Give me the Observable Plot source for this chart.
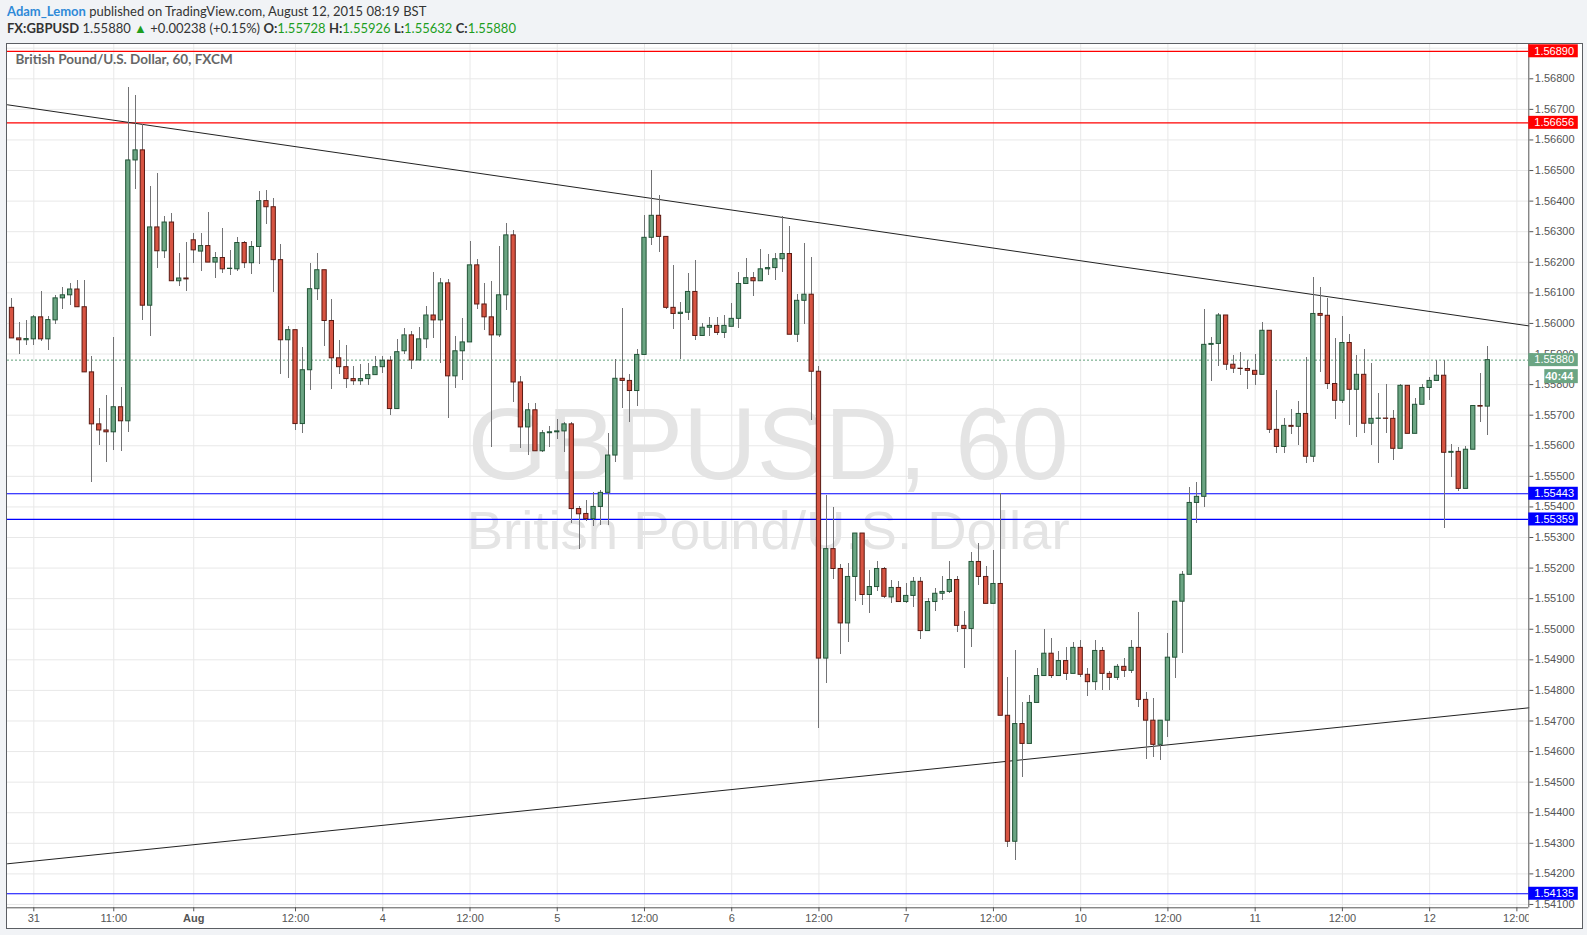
<!DOCTYPE html>
<html><head><meta charset="utf-8">
<script src="https://cdn.jsdelivr.net/npm/d3@7"></script>
<script src="https://cdn.jsdelivr.net/npm/@observablehq/plot@0.6"></script>
<style>
html,body{margin:0;padding:0;background:#f1f3f6;width:1587px;height:935px;overflow:hidden;position:relative;}
#hdr{position:absolute;left:7px;top:0;font-family:Lato,'Open Sans',sans-serif;font-size:13px;color:#333;}
#l1{position:absolute;top:4px;left:0;white-space:nowrap;line-height:15px;}
#l2{position:absolute;top:21px;left:0;white-space:nowrap;line-height:15px;}
.g{color:#1e9e1e;}
.u{color:#2f8ad8;font-weight:bold;}
#box{position:absolute;left:6px;top:43px;width:1577px;height:886px;border:1px solid #5b5e63;box-sizing:border-box;background:#fff;overflow:hidden;}
</style></head><body>
<div id="hdr"><div id="l1"></div><div id="l2"></div></div>
<div id="box"></div>
<script>
// ---- data (hourly GBPUSD candles, index 0 = 31 Jul 00:00, weekend gaps collapsed) ----
const firstIndex = -3;
const open = [
1.56051,1.55951,1.55945,1.55948,1.56020,1.55948,1.56010,1.56082,1.56092,1.56111,
1.56053,1.55840,1.55670,1.55650,1.55644,1.55726,1.55680,1.56533,1.56566,1.56058,
1.56314,1.56236,1.56330,1.56138,1.56147,1.56272,1.56235,1.56253,1.56199,1.56214,
1.56178,1.56177,1.56263,1.56197,1.56250,1.56400,1.56380,1.56207,1.55945,1.55978,
1.55671,1.55847,1.56112,1.56174,1.56008,1.55886,1.55857,1.55818,1.55811,1.55818,
1.55831,1.55857,1.55878,1.55720,1.55909,1.55961,1.55879,1.55948,1.56026,1.56010,
1.56131,1.55827,1.55909,1.55938,1.56190,1.56062,1.56020,1.55961,1.56092,1.56288,
1.55807,1.55660,1.55716,1.55582,1.55641,1.55644,1.55647,1.55670,1.55393,1.55377,
1.55360,1.55400,1.55446,1.55568,1.55819,1.55812,1.55779,1.55897,1.56280,1.56352,
1.56283,1.56051,1.56031,1.56035,1.56103,1.55959,1.55986,1.55992,1.55969,1.55989,
1.56015,1.56129,1.56148,1.56138,1.56177,1.56181,1.56210,1.56227,1.55963,1.56074,
1.56094,1.55842,1.54904,1.55262,1.55197,1.55019,1.55171,1.55313,1.55112,1.55138,
1.55197,1.55104,1.55135,1.55089,1.55109,1.55155,1.54994,1.55089,1.55116,1.55122,
1.55161,1.55011,1.55001,1.55220,1.55171,1.55083,1.55148,1.54717,1.54305,1.54690,
1.54625,1.54759,1.54847,1.54920,1.54847,1.54896,1.54854,1.54939,1.54851,1.54827,
1.54929,1.54854,1.54841,1.54877,1.54864,1.54939,1.54769,1.54701,1.54622,1.54701,
1.54907,1.55090,1.55178,1.55413,1.55433,1.55930,1.55933,1.56026,1.55865,1.55852,
1.55851,1.55845,1.55832,1.55976,1.55652,1.55596,1.55665,1.55662,1.55704,1.55564,
1.56031,1.56025,1.55802,1.55747,1.55936,1.55783,1.55832,1.55672,1.55688,1.55689,
1.55688,1.55590,1.55796,1.55639,1.55734,1.55789,1.55812,1.55829,1.55577,1.55580,
1.55459,1.55587,1.55730,1.55728];
const high = [
1.56080,1.56004,1.56011,1.56027,1.56103,1.56024,1.56090,1.56119,1.56129,1.56142,
1.56142,1.55893,1.55723,1.55763,1.55953,1.55789,1.56770,1.56744,1.56651,1.56449,
1.56489,1.56351,1.56361,1.56230,1.56266,1.56295,1.56293,1.56362,1.56231,1.56310,
1.56238,1.56280,1.56268,1.56269,1.56431,1.56434,1.56407,1.56257,1.55989,1.55978,
1.55920,1.56195,1.56228,1.56174,1.56077,1.55943,1.55927,1.55858,1.55865,1.55868,
1.55891,1.55891,1.55891,1.55947,1.55982,1.55974,1.55988,1.56057,1.56168,1.56147,
1.56144,1.55958,1.56017,1.56269,1.56210,1.56131,1.56138,1.56253,1.56328,1.56304,
1.55827,1.55739,1.55739,1.55650,1.55663,1.55686,1.55677,1.55675,1.55401,1.55421,
1.55446,1.55454,1.55639,1.55881,1.56050,1.55833,1.55915,1.56353,1.56500,1.56418,
1.56283,1.56188,1.56068,1.56162,1.56206,1.55999,1.56021,1.56018,1.56025,1.56064,
1.56165,1.56213,1.56167,1.56243,1.56227,1.56230,1.56350,1.56316,1.56094,1.56260,
1.56217,1.55858,1.55438,1.55397,1.55211,1.55216,1.55313,1.55313,1.55191,1.55220,
1.55202,1.55159,1.55156,1.55149,1.55168,1.55168,1.55099,1.55132,1.55171,1.55221,
1.55174,1.55057,1.55251,1.55280,1.55204,1.55257,1.55443,1.54841,1.54932,1.54760,
1.54783,1.54870,1.54999,1.54970,1.54926,1.54939,1.54957,1.54963,1.54873,1.54963,
1.54939,1.54862,1.54885,1.54903,1.54963,1.55055,1.54792,1.54772,1.54701,1.54987,
1.55090,1.55189,1.55462,1.55480,1.56046,1.55954,1.56034,1.56026,1.55894,1.55905,
1.55879,1.55900,1.56003,1.55976,1.55781,1.55688,1.55718,1.55745,1.55887,1.56151,
1.56119,1.56081,1.55950,1.56023,1.55963,1.55894,1.55914,1.55868,1.55770,1.55800,
1.55715,1.55799,1.55796,1.55754,1.55799,1.55822,1.55879,1.55879,1.55603,1.55595,
1.55596,1.55730,1.55835,1.55926];
const low = [
1.55951,1.55900,1.55929,1.55929,1.55940,1.55911,1.55995,1.56044,1.56058,1.56053,
1.55840,1.55481,1.55600,1.55545,1.55584,1.55581,1.55644,1.56438,1.56009,1.55957,
1.56179,1.56212,1.56138,1.56120,1.56103,1.56195,1.56170,1.56199,1.56147,1.56163,
1.56157,1.56170,1.56181,1.56160,1.56193,1.56325,1.56101,1.55833,1.55820,1.55649,
1.55640,1.55781,1.56075,1.55925,1.55784,1.55833,1.55787,1.55798,1.55798,1.55798,
1.55831,1.55836,1.55700,1.55720,1.55898,1.55848,1.55879,1.55917,1.55950,1.55868,
1.55689,1.55787,1.55813,1.55938,1.56046,1.55976,1.55595,1.55954,1.56043,1.55741,
1.55592,1.55568,1.55582,1.55578,1.55595,1.55621,1.55579,1.55347,1.55260,1.55353,
1.55337,1.55339,1.55339,1.55546,1.55723,1.55677,1.55729,1.55897,1.56256,1.56231,
1.56044,1.55979,1.55881,1.56011,1.55943,1.55956,1.55956,1.55959,1.55950,1.55989,
1.55984,1.56129,1.56088,1.56138,1.56158,1.56141,1.56167,1.55963,1.55939,1.55998,
1.55683,1.54676,1.54824,1.55164,1.54917,1.54956,1.55092,1.55079,1.55052,1.55123,
1.55101,1.55083,1.55089,1.55083,1.55072,1.54967,1.54994,1.55057,1.55093,1.55116,
1.54988,1.54870,1.54941,1.55142,1.55083,1.55083,1.54717,1.54287,1.54243,1.54516,
1.54625,1.54759,1.54847,1.54840,1.54847,1.54833,1.54854,1.54843,1.54781,1.54800,
1.54800,1.54800,1.54832,1.54843,1.54854,1.54745,1.54574,1.54582,1.54571,1.54647,
1.54840,1.54920,1.55178,1.55345,1.55399,1.55811,1.55859,1.55845,1.55837,1.55831,
1.55785,1.55797,1.55832,1.55639,1.55576,1.55576,1.55636,1.55602,1.55541,1.55544,
1.55838,1.55783,1.55685,1.55737,1.55665,1.55628,1.55639,1.55600,1.55543,1.55641,
1.55553,1.55590,1.55639,1.55639,1.55734,1.55749,1.55809,1.55330,1.55497,1.55452,
1.55459,1.55587,1.55677,1.55632];
const close = [
1.55951,1.55945,1.55949,1.56020,1.55948,1.56011,1.56082,1.56092,1.56111,1.56053,
1.55840,1.55670,1.55650,1.55644,1.55726,1.55680,1.56533,1.56566,1.56058,1.56314,
1.56236,1.56330,1.56138,1.56147,1.56144,1.56239,1.56253,1.56199,1.56214,1.56177,
1.56179,1.56263,1.56197,1.56250,1.56400,1.56380,1.56207,1.55945,1.55978,1.55671,
1.55847,1.56112,1.56174,1.56008,1.55886,1.55857,1.55818,1.55811,1.55818,1.55831,
1.55857,1.55878,1.55720,1.55906,1.55961,1.55879,1.55948,1.56026,1.56010,1.56131,
1.55827,1.55909,1.55938,1.56190,1.56062,1.56020,1.55961,1.56092,1.56288,1.55807,
1.55660,1.55716,1.55582,1.55641,1.55644,1.55647,1.55670,1.55393,1.55376,1.55360,
1.55400,1.55446,1.55568,1.55819,1.55812,1.55779,1.55897,1.56280,1.56352,1.56283,
1.56051,1.56031,1.56035,1.56103,1.55959,1.55986,1.55992,1.55969,1.55992,1.56015,
1.56129,1.56148,1.56138,1.56177,1.56181,1.56210,1.56227,1.55963,1.56074,1.56094,
1.55842,1.54904,1.55262,1.55197,1.55019,1.55171,1.55313,1.55112,1.55138,1.55197,
1.55106,1.55135,1.55089,1.55109,1.55155,1.54994,1.55089,1.55116,1.55122,1.55161,
1.55011,1.55001,1.55220,1.55171,1.55083,1.55148,1.54717,1.54305,1.54690,1.54625,
1.54759,1.54847,1.54920,1.54847,1.54896,1.54854,1.54939,1.54851,1.54827,1.54929,
1.54854,1.54841,1.54877,1.54864,1.54939,1.54769,1.54701,1.54622,1.54701,1.54907,
1.55090,1.55178,1.55413,1.55433,1.55930,1.55933,1.56026,1.55865,1.55852,1.55851,
1.55845,1.55832,1.55976,1.55652,1.55596,1.55665,1.55662,1.55704,1.55564,1.56031,
1.56025,1.55802,1.55747,1.55936,1.55783,1.55832,1.55672,1.55688,1.55689,1.55688,
1.55590,1.55796,1.55639,1.55734,1.55789,1.55812,1.55829,1.55577,1.55580,1.55459,
1.55587,1.55730,1.55728,1.55880];

const xTickIndex = [0, 11, 22, 36, 48, 60, 72, 84, 96, 108, 120, 132, 144, 156, 168, 180, 192, 204];
const xTickLabel = ["31","11:00","Aug","12:00","4","12:00","5","12:00","6","12:00","7","12:00","10","12:00","11","12:00","12","12:00"];
const yTickPrices = d3.range(1541, 1569).map(v => v / 1000);
const yGridPrices = d3.range(1541, 1570).map(v => v / 1000);

const levelPrice = [1.56890, 1.56656, 1.55443, 1.55359, 1.54135];
const levelColor = ["#ff0000", "#ff0000", "#0000ff", "#0000ff", "#0000ff"];
const lastPrice = 1.55880;
const countdown = "40:44";
const upperTrendIndex = [-3.62, 205.64], upperTrendPrice = [1.56715, 1.55992];
const lowerTrendIndex = [-3.62, 205.64], lowerTrendPrice = [1.54233, 1.54743];

const symbolTitle = "British Pound/U.S. Dollar, 60, FXCM";
const watermark1 = "GBPUSD, 60", watermark2 = "British Pound/U.S. Dollar";

// ---- header ----
const n = close.length - 1;
const fmt = d3.format(".5f");
document.getElementById("l1").innerHTML =
  '<span class="u">Adam_Lemon</span> published on TradingView.com, August 12, 2015 08:19 BST';
document.getElementById("l2").innerHTML =
  `<b>FX:GBPUSD</b> ${fmt(close[n])} <span class="g">&#9650;</span> +0.00238 (+0.15%) ` +
  `<b>O:</b><span class="g">${fmt(open[n])}</span> <b>H:</b><span class="g">${fmt(high[n])}</span> ` +
  `<b>L:</b><span class="g">${fmt(low[n])}</span> <b>C:</b><span class="g">${fmt(close[n])}</span>`;

// ---- build tables ----
const rows = open.map((o, k) => ({i: k + firstIndex, o, h: high[k], l: low[k], c: close[k]}));
const UP = "#6ba583", DOWN = "#d75442", UPB = "#225437", DOWNB = "#5b1a13", WICK = "#737375";
const levels = levelPrice.map((p, k) => ({p, color: levelColor[k]}));
const upperTrend = upperTrendIndex.map((i, k) => ({i, p: upperTrendPrice[k]}));
const lowerTrend = lowerTrendIndex.map((i, k) => ({i, p: lowerTrendPrice[k]}));
const tickLabelMap = new Map(xTickIndex.map((d, k) => [d, xTickLabel[k]]));

const W = 1575, H = 884;
const xDomain = [-3.618, 205.64];
const yDomain = [1.540891, 1.5691216];

function priceLabels(index, scales, values, dims) {
  const g = d3.create("svg:g")
    .attr("font-family", "'Liberation Sans', Arial, sans-serif")
    .attr("font-size", 11)
    .attr("text-anchor", "start");
  const x0 = dims.width - dims.marginRight;
  const items = levels.map(d => ({p: d.p, bg: d.color})).concat([{p: lastPrice, bg: UP}]);
  for (const it of items) {
    const y = scales.y(it.p);
    g.append("rect").attr("x", x0).attr("y", y - 6.5).attr("width", 49.5).attr("height", 13).attr("fill", it.bg);
    g.append("text").attr("x", x0 + 6).attr("y", y).attr("dy", "0.35em").attr("text-anchor", "start")
      .attr("fill", "#fff").text(fmt(it.p));
  }
  const yc = scales.y(lastPrice) + 16.5;
  g.append("rect").attr("x", x0 + 16).attr("y", yc - 7).attr("width", 33.5).attr("height", 14).attr("fill", UP);
  g.append("text").attr("x", x0 + 45).attr("y", yc).attr("dy", "0.35em").attr("text-anchor", "end")
    .attr("fill", "#fff").attr("font-weight", "bold").text(countdown);
  return g.node();
}

const chart = Plot.plot({
  width: W, height: H,
  marginLeft: 0, marginRight: 53.7, marginTop: 0, marginBottom: 20.7,
  style: {fontFamily: "'Liberation Sans', Arial, sans-serif", fontSize: "11px", background: "transparent", overflow: "visible"},
  x: {domain: xDomain},
  y: {domain: yDomain},
  marks: [
    Plot.gridY(yGridPrices, {stroke: "#e8e8e8", strokeOpacity: 1}),
    Plot.gridX(xTickIndex, {stroke: "#e8e8e8", strokeOpacity: 1}),
    Plot.text([watermark1], {text: d => d, frameAnchor: "middle", dy: -30, fontSize: 102, fill: "#e4e4e4", fontFamily: "'Liberation Sans', Arial, sans-serif"}),
    Plot.text([watermark2], {text: d => d, frameAnchor: "middle", dy: 55, fontSize: 54.5, fill: "#e4e4e4", fontFamily: "'Liberation Sans', Arial, sans-serif"}),
    Plot.text([symbolTitle], {text: d => d, frameAnchor: "top-left", dx: 8, dy: 10, fontSize: 13.5, fontWeight: "bold", fill: "#666", fontFamily: "Lato, 'Open Sans', sans-serif", textAnchor: "start"}),
    Plot.ruleY(levels, {y: "p", stroke: "color", strokeWidth: 1.2}),
    Plot.ruleY([lastPrice], {stroke: "#5f9e78", strokeDasharray: "2,2"}),
    Plot.line(upperTrend, {x: "i", y: "p", stroke: "#222", strokeWidth: 1}),
    Plot.line(lowerTrend, {x: "i", y: "p", stroke: "#222", strokeWidth: 1}),
    Plot.ruleX(rows, {x: "i", y1: "l", y2: "h", stroke: WICK, strokeWidth: 1, shapeRendering: "crispEdges"}),
    Plot.rect(rows, {
      x1: d => d.i - 0.5, x2: d => d.i + 0.5, y1: "o", y2: "c",
      insetLeft: 1.5, insetRight: 1.5,
      fill: d => d.c >= d.o ? UP : DOWN,
      stroke: d => d.c >= d.o ? UPB : DOWNB, strokeWidth: 1
    }),
    Plot.ruleX([xDomain[1]], {stroke: "#555"}),
    Plot.ruleY([yDomain[0]], {stroke: "#555"}),
    Plot.axisY(yTickPrices, {anchor: "right", tickFormat: fmt, tickSize: 4, tickPadding: 2, color: "#555", label: null, fontSize: 11}),
    Plot.axisX(xTickIndex, {anchor: "bottom", tickFormat: d => tickLabelMap.get(d), tickSize: 4, tickPadding: 2, color: "#555", label: null, fontSize: 11}),
    priceLabels
  ]
});

document.getElementById("box").appendChild(chart);

// post-process: bold month label, clip last x label at the price axis
const svg = d3.select(chart);
svg.selectAll("text").filter(function () { return this.textContent === "Aug"; }).attr("font-weight", "bold");
const defs = svg.insert("defs", ":first-child");
defs.append("clipPath").attr("id", "xclip").append("rect").attr("x", -10).attr("y", 0).attr("width", W - 53.7 + 10).attr("height", H);
svg.selectAll("g[aria-label='x-axis tick label']").attr("clip-path", "url(#xclip)");
</script>
</body></html>
